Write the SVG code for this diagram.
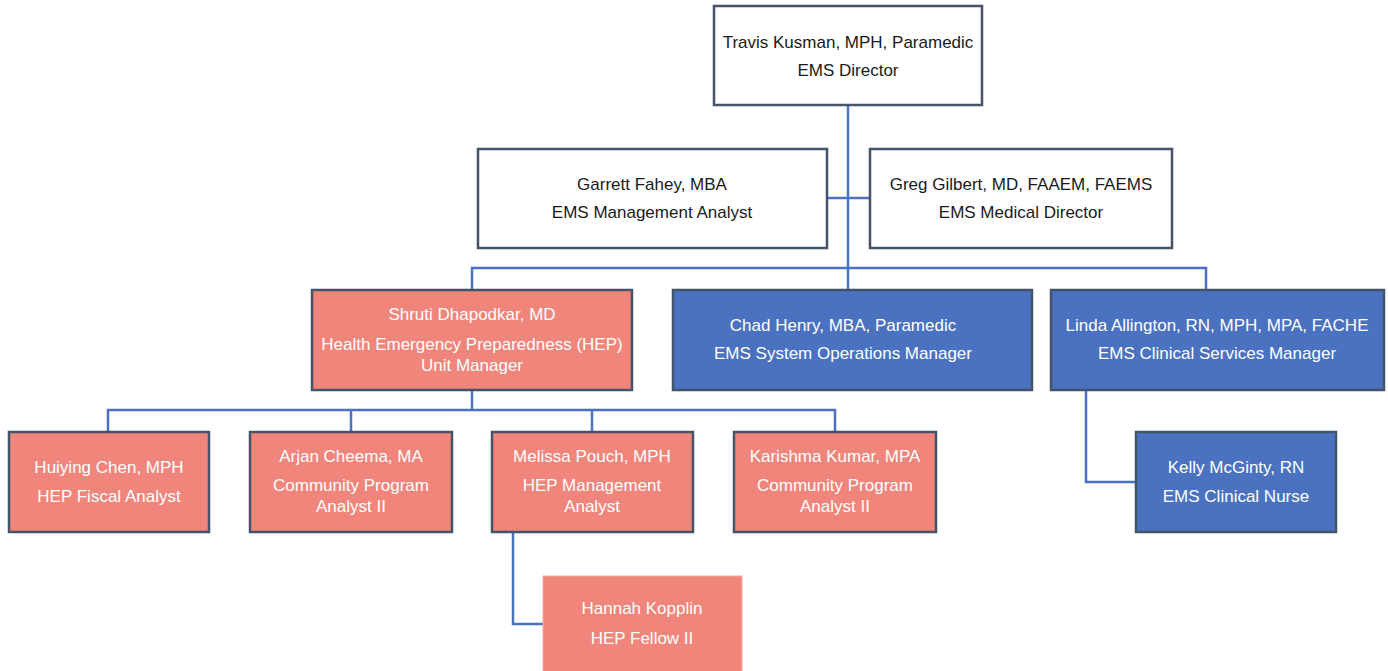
<svg xmlns="http://www.w3.org/2000/svg" width="1388" height="671" viewBox="0 0 1388 671">
<style>
.box{stroke:#44546A;stroke-width:2.5}
.w{fill:#FFFFFF}
.r{fill:#F0857B}
.b{fill:#4A72C0}
.t{font-family:"Liberation Sans",Arial,sans-serif;font-size:17px;text-anchor:middle}
.dk{fill:#1a1a1a}
.lt{fill:#FFFFFF}
.c{fill:none;stroke:#4A72C0;stroke-width:2.5}
</style>
<rect width="1388" height="671" fill="#FFFFFF"/>
<g id="connectors">
<path class="c" d="M848 106 V268"/>
<path class="c" d="M827 198 H870"/>
<path class="c" d="M472 290 V268 H1206 V290"/>
<path class="c" d="M848 268 V290"/>
<path class="c" d="M472 390 V410"/>
<path class="c" d="M108 432 V410 H835 V432"/>
<path class="c" d="M351 410 V432"/>
<path class="c" d="M592 410 V432"/>
<path class="c" d="M513 532 V624 H543"/>
<path class="c" d="M1086 390 V482 H1136"/>
</g>
<g id="travis">
<rect class="box w" x="714" y="6" width="268" height="99"/>
<text class="t dk" x="848" y="48">Travis Kusman, MPH, Paramedic</text>
<text class="t dk" x="848" y="76">EMS Director</text>
</g>
<g id="garrett">
<rect class="box w" x="478" y="149" width="349" height="99"/>
<text class="t dk" x="652" y="190">Garrett Fahey, MBA</text>
<text class="t dk" x="652" y="218">EMS Management Analyst</text>
</g>
<g id="greg">
<rect class="box w" x="870" y="149" width="302" height="99"/>
<text class="t dk" x="1021" y="190">Greg Gilbert, MD, FAAEM, FAEMS</text>
<text class="t dk" x="1021" y="218">EMS Medical Director</text>
</g>
<g id="shruti">
<rect class="box r" x="312" y="290" width="320" height="100"/>
<text class="t lt" x="472" y="320">Shruti Dhapodkar, MD</text>
<text class="t lt" x="472" y="350">Health Emergency Preparedness (HEP)</text>
<text class="t lt" x="472" y="371">Unit Manager</text>
</g>
<g id="chad">
<rect class="box b" x="673" y="290" width="359" height="100"/>
<text class="t lt" x="843" y="331">Chad Henry, MBA, Paramedic</text>
<text class="t lt" x="843" y="359">EMS System Operations Manager</text>
</g>
<g id="linda">
<rect class="box b" x="1051" y="290" width="333" height="100"/>
<text class="t lt" x="1217" y="331">Linda Allington, RN, MPH, MPA, FACHE</text>
<text class="t lt" x="1217" y="359">EMS Clinical Services Manager</text>
</g>
<g id="huiying">
<rect class="box r" x="9" y="432" width="200" height="100"/>
<text class="t lt" x="109" y="473">Huiying Chen, MPH</text>
<text class="t lt" x="109" y="502">HEP Fiscal Analyst</text>
</g>
<g id="arjan">
<rect class="box r" x="250" y="432" width="202" height="100"/>
<text class="t lt" x="351" y="462">Arjan Cheema, MA</text>
<text class="t lt" x="351" y="491">Community Program</text>
<text class="t lt" x="351" y="512">Analyst II</text>
</g>
<g id="melissa">
<rect class="box r" x="492" y="432" width="201" height="100"/>
<text class="t lt" x="592" y="462">Melissa Pouch, MPH</text>
<text class="t lt" x="592" y="491">HEP Management</text>
<text class="t lt" x="592" y="512">Analyst</text>
</g>
<g id="karishma">
<rect class="box r" x="734" y="432" width="202" height="100"/>
<text class="t lt" x="835" y="462">Karishma Kumar, MPA</text>
<text class="t lt" x="835" y="491">Community Program</text>
<text class="t lt" x="835" y="512">Analyst II</text>
</g>
<g id="hannah">
<rect class="r" x="543" y="576" width="199" height="100" stroke="#F4A9A2" stroke-width="1"/>
<text class="t lt" x="642" y="614">Hannah Kopplin</text>
<text class="t lt" x="642" y="644">HEP Fellow II</text>
</g>
<g id="kelly">
<rect class="box b" x="1136" y="432" width="200" height="100"/>
<text class="t lt" x="1236" y="473">Kelly McGinty, RN</text>
<text class="t lt" x="1236" y="502">EMS Clinical Nurse</text>
</g>
</svg>
